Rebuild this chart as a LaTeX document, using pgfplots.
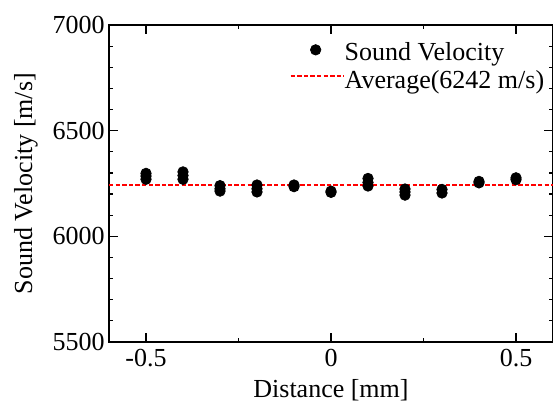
\documentclass[border=0pt]{standalone}
\usepackage{fontspec}
\setmainfont{Liberation Serif}
\usepackage{pgfplots}
\pgfplotsset{compat=1.18}

\pgfplotsset{
  dotlegend/.style={legend image code/.code={\path (0pt,0pt) (26.5pt,0pt); \draw[##1] plot coordinates {(12.5pt,2.5pt)};}},
  linelegend/.style={legend image code/.code={\draw[##1] (0pt,3pt) -- (26.5pt,3pt);}},
}

\begin{document}
\begin{tikzpicture}[font=\fontsize{13}{15}\selectfont]
  \begin{axis}[
    scale only axis,
    width=222pt, height=158.5pt,
    xmin=-0.6, xmax=0.6,
    ymin=5500, ymax=7000,
    xtick={-0.5,0,0.5},
    xticklabels={-0.5,0,0.5},
    ytick={5500,6000,6500,7000},
    minor x tick num=1,
    minor y tick num=4,
    tick align=inside,
    major tick length=4.5pt,
    minor tick length=2.2pt,
    axis line style={line width=0.6pt},
    every tick/.style={black, line width=0.6pt},
    /pgf/number format/assume math mode=true,
    scaled y ticks=false,
    yticklabel style={/pgf/number format/1000 sep={}, anchor=east, inner sep=0pt, xshift=-2pt},
    xticklabel style={anchor=north, inner sep=0pt, yshift=-3.5pt},
    xlabel={Distance [mm]},
    ylabel={Sound Velocity [m/s]},
    every axis x label/.style={at={(rel axis cs:0.5,0)}, yshift=-24pt, anchor=center},
    every axis y label/.style={at={(rel axis cs:0,0.5)}, xshift=-41.5pt, rotate=90, anchor=center},
    clip=false,
    legend style={
      at={(rel axis cs:0.406,0.945)}, anchor=north west,
      draw=none, fill=none, inner sep=0pt,
      row sep=1.8pt,
      nodes={inner xsep=0pt, inner ysep=0pt, text height=9pt, text depth=3pt},
    },
    legend cell align=left,
  ]
    \addplot[only marks, mark=*, mark size=2.6pt, black, dotlegend]
      coordinates {
      (-0.5,6298) (-0.5,6285) (-0.5,6270)
      (-0.4,6305) (-0.4,6288) (-0.4,6270)
      (-0.3,6240) (-0.3,6225) (-0.3,6214)
      (-0.2,6243) (-0.2,6225) (-0.2,6210)
      (-0.1,6243) (-0.1,6235)
      (0,6214) (0,6208)
      (0.1,6274) (0.1,6255) (0.1,6238)
      (0.2,6224) (0.2,6210) (0.2,6195)
      (0.3,6222) (0.3,6205)
      (0.4,6260) (0.4,6253)
      (0.5,6277) (0.5,6268)
    };
    \addlegendentry{Sound Velocity}
    \addplot[red, mark=none, line width=1pt, dash pattern=on 2.2pt off 1.1pt, linelegend]
      coordinates {(-0.6,6242) (0.6,6242)};
    \addlegendentry{Average(6242 m/s)}
    \coordinate (bl) at (rel axis cs:0,0);
    \coordinate (tr) at (rel axis cs:1,1);
  \end{axis}
  \pgfresetboundingbox
  \path ([xshift=-54.5pt,yshift=-30.5pt]bl) rectangle ([yshift=12.5pt]tr);
\end{tikzpicture}
\end{document}
